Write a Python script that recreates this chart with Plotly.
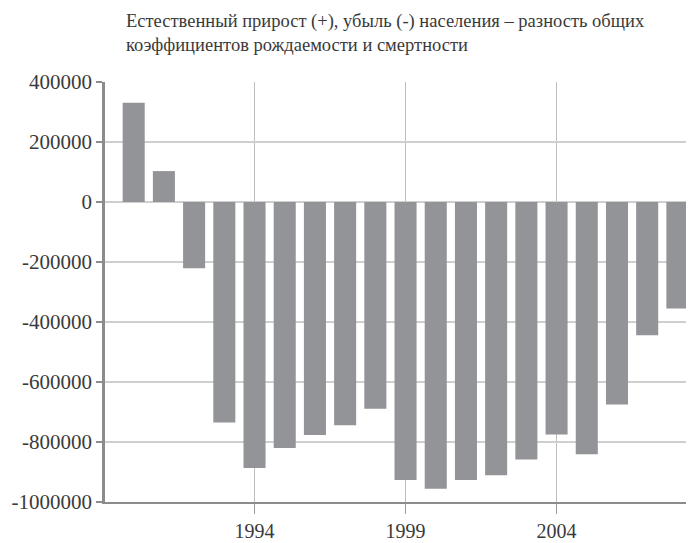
import plotly.graph_objects as go

years = list(range(1990, 2009))
values = [331000, 103000, -221000, -735000, -887000, -820000, -777000, -744000,
          -689000, -927000, -956000, -927000, -911000, -858000, -775000, -841000,
          -675000, -444000, -355000]
x_ticks = [1994, 1999, 2004]
y_ticks = [400000, 200000, 0, -200000, -400000, -600000, -800000, -1000000]
title_text = ("Естественный прирост (+), убыль (-) населения – разность общих<br>"
              "коэффициентов рождаемости и смертности")

font_family = "'Liberation Serif', 'Times New Roman', Times, serif"

fig = go.Figure()
fig.add_trace(go.Bar(x=years, y=values, marker=dict(color="#939498", line=dict(width=0)),
                     width=0.73))

fig.update_layout(
    width=686, height=535,
    margin=dict(l=97, r=0, t=74, b=41),
    paper_bgcolor="white", plot_bgcolor="white",
    showlegend=False,
    font=dict(family=font_family, color="#3a3a3a", size=20),
    annotations=[dict(
        text=title_text, xref="paper", yref="paper", x=0.032, y=1.0, yshift=73,
        xanchor="left", yanchor="top", align="left", showarrow=False,
        font=dict(family=font_family, size=18.5, color="#3a3a3a"))],
)
fig.update_xaxes(
    range=[1989.05, 2008.55], tickvals=x_ticks, ticktext=[str(v) for v in x_ticks],
    showgrid=True, gridcolor="#bdbdbd", gridwidth=1,
    ticks="outside", ticklen=10, tickcolor="#9a9a9a", tickwidth=1,
    showline=True, linecolor="#8c8c8c", linewidth=2,
    tickfont=dict(size=20, family=font_family, color="#3a3a3a"),
    zeroline=False,
)
fig.update_yaxes(
    range=[-1000000, 400000], tickvals=y_ticks, ticktext=[str(v) for v in y_ticks],
    showgrid=True, gridcolor="#cfcfcf", gridwidth=1.5,
    ticks="outside", ticklen=6, tickcolor="#8c8c8c", tickwidth=2,
    showline=True, linecolor="#8c8c8c", linewidth=2.5,
    zeroline=True, zerolinecolor="#cfcfcf", zerolinewidth=1.5,
    tickfont=dict(size=21, family=font_family, color="#3a3a3a"),
)

fig.write_html("out.html")
